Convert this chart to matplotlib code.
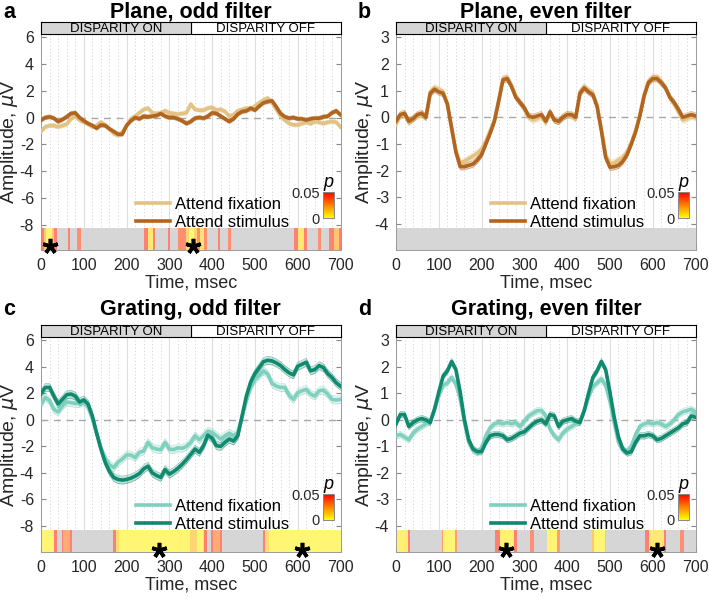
import numpy as np
import matplotlib
matplotlib.use('Agg')
import matplotlib.pyplot as plt
from matplotlib import colors
from matplotlib.cm import ScalarMappable

plt.rcParams['font.family'] = ['Liberation Sans', 'DejaVu Sans']
plt.rcParams['axes.unicode_minus'] = False

# время, мс (шаг 10 мс)
time = np.arange(0, 701, 10)

# --- данные ---
plane_odd_fix = [-1.05, -0.7, -0.6, -0.6, -0.7, -0.6, -0.5, -0.1, 0.1, -0.2,
                 -0.35, -0.5, -0.7, -0.6, -0.35, -0.55, -0.85, -1.2, -1.35, -1.1,
                 -0.6, -0.1, 0.1, 0.35, 0.6, 0.7, 0.35, 0.3, 0.35, 0.5,
                 0.35, 0.3, 0.25, 0.3, 0.35, 1.0, 0.6, 0.55, 0.55, 0.7,
                 0.75, 0.55, 0.6, 0.45, 0.1, 0.2, 0.5, 0.6, 0.7, 0.6,
                 0.85, 1.1, 1.3, 1.45, 1.1, 0.6, 0.1, -0.2, -0.45, -0.55,
                 -0.55, -0.45, -0.35, -0.45, -0.3, -0.35, -0.45, -0.35, -0.3, -0.35,
                 -0.7]
plane_odd_stim = [-0.2, 0.0, 0.05, -0.05, -0.3, -0.15, 0.05, 0.3, 0.35, 0.0,
                  -0.25, -0.45, -0.6, -0.8, -0.55, -0.6, -0.85, -1.05, -1.25, -1.25,
                  -0.6, -0.25, 0.0, -0.1, 0.1, 0.05, 0.1, 0.15, 0.3, 0.1,
                  0.0, 0.0, -0.1, -0.25, -0.45, -0.3, -0.05, 0.0, -0.05, 0.1,
                  0.35, 0.3, 0.1, -0.1, -0.3, -0.1, 0.25, 0.45, 0.5, 0.7,
                  0.55, 0.85, 1.1, 1.2, 1.25, 0.8, 0.3, 0.05, -0.05, 0.0,
                  -0.1, -0.1, -0.2, -0.1, -0.05, -0.05, 0.05, 0.1, 0.35, 0.5,
                  0.2]
plane_even_fix = [-0.25, 0.05, 0.1, -0.2, -0.05, 0.05, 0.1, 0.0, 0.95, 1.1,
                  1.05, 0.95, 0.5, -0.4, -1.25, -1.7, -1.65, -1.55, -1.45, -1.35,
                  -1.2, -0.9, -0.5, -0.1, 0.65, 1.45, 1.5, 1.2, 0.8, 0.55,
                  0.3, 0.0, -0.1, -0.05, 0.05, -0.2, 0.15, -0.1, -0.15, 0.0,
                  0.1, 0.05, -0.05, 0.95, 1.15, 1.0, 0.9, 0.45, -0.45, -1.4,
                  -1.75, -1.7, -1.6, -1.5, -1.3, -0.95, -0.5, 0.1, 0.85, 1.35,
                  1.5, 1.5, 1.35, 1.1, 0.75, 0.5, 0.2, -0.1, -0.05, 0.05,
                  0.0]
plane_even_stim = [-0.15, 0.1, 0.15, -0.15, -0.05, 0.1, 0.15, 0.0, 0.9, 1.05,
                   0.95, 0.9, 0.5, -0.4, -1.3, -1.85, -1.85, -1.8, -1.75, -1.6,
                   -1.4, -1.0, -0.6, -0.15, 0.6, 1.4, 1.45, 1.15, 0.75, 0.55,
                   0.35, 0.05, 0.0, 0.05, 0.1, -0.15, 0.2, -0.1, -0.15, 0.0,
                   0.1, 0.1, 0.0, 0.9, 1.1, 0.95, 0.85, 0.4, -0.5, -1.5,
                   -1.87, -1.85, -1.8, -1.65, -1.4, -1.0, -0.55, 0.05, 0.8, 1.3,
                   1.45, 1.45, 1.3, 1.1, 0.75, 0.55, 0.3, 0.0, 0.05, 0.1,
                   0.05]
grating_odd_fix = [1.2, 1.7, 1.45, 0.8, 0.6, 1.05, 1.35, 1.3, 1.25, 1.25,
                   1.35, 1.0, 0.1, -1.0, -2.1, -2.9, -3.4, -3.6, -3.2, -2.95,
                   -2.65, -2.65, -2.85, -2.45, -2.35, -1.7, -2.1, -2.2, -2.25, -1.7,
                   -2.2, -2.25, -2.1, -2.15, -2.0, -1.7, -1.2, -1.5, -1.2, -0.85,
                   -0.95, -1.2, -1.45, -1.2, -1.0, -1.2, -0.95, 0.2, 1.45, 2.45,
                   3.05, 3.35, 3.7, 3.45, 2.75, 2.55, 2.45, 2.45, 1.85, 1.55,
                   2.05, 2.2, 2.3, 1.95, 1.8, 2.2, 2.25, 1.95, 1.55, 1.5,
                   1.55]
grating_odd_stim = [2.0, 2.45, 2.45, 1.8, 1.2, 1.55, 1.9, 1.95, 1.8, 1.35,
                    1.5, 1.2, 0.3, -1.0, -2.2, -3.2, -3.9, -4.35, -4.5, -4.55,
                    -4.5, -4.4, -4.25, -4.05, -3.7, -3.5, -4.0, -4.2, -4.35, -3.75,
                    -4.1, -3.9, -3.65, -3.35, -3.0, -2.6, -2.2, -2.45, -1.95, -1.15,
                    -1.4, -1.95, -2.0, -1.7, -1.45, -1.6, -1.2, 0.3, 1.8, 2.85,
                    3.5, 3.95, 4.4, 4.5, 4.45, 4.3, 4.1, 3.8, 3.55, 3.4,
                    4.05, 4.2, 4.35, 3.7, 3.8, 4.1, 3.95, 3.5, 3.2, 2.8,
                    2.55]
grating_even_fix = [-0.6, -0.55, -0.65, -0.75, -0.5, -0.35, -0.25, -0.15, -0.05, 0.4,
                    0.9, 1.3, 1.4, 1.6, 1.35, 0.8, -0.1, -0.85, -1.15, -1.25,
                    -1.05, -0.6, -0.3, -0.15, -0.1, -0.15, -0.1, -0.15, -0.1, -0.25,
                    -0.05, 0.15, 0.25, 0.35, 0.35, 0.15, -0.35, -0.6, -0.75, -0.5,
                    -0.35, -0.25, -0.15, -0.05, 0.35, 0.85, 1.25, 1.4, 1.55, 1.3,
                    0.7, -0.1, -0.85, -1.15, -1.2, -1.0, -0.55, -0.25, -0.15, -0.1,
                    -0.15, -0.1, -0.15, -0.25, -0.15, 0.0, 0.2, 0.3, 0.35, 0.4,
                    0.3]
grating_even_stim = [-0.15, 0.2, 0.2, -0.25, -0.1, 0.0, 0.05, 0.0, -0.1, 0.4,
                     1.05, 1.65, 1.85, 2.2, 1.9, 1.05, 0.0, -0.75, -1.1, -1.2,
                     -1.2, -0.85, -0.6, -0.55, -0.55, -0.6, -0.75, -0.7, -0.6, -0.5,
                     -0.45, -0.3, -0.15, -0.05, 0.0, -0.15, 0.2, 0.15, -0.25, -0.05,
                     0.0, 0.05, -0.05, -0.1, 0.35, 1.0, 1.6, 1.85, 2.2, 1.9,
                     1.05, 0.1, -0.65, -1.1, -1.25, -1.2, -0.85, -0.6, -0.6, -0.55,
                     -0.6, -0.75, -0.7, -0.6, -0.5, -0.4, -0.3, -0.15, -0.1, 0.15,
                     0.1]

# ошибка среднего (ширина полосы)
sem = {'a': 0.15, 'b': 0.12, 'c': 0.3, 'd': 0.12}

# значимые интервалы: (начало, конец, p)
sig_a = [(0, 37, 0.045), (8, 30, 0.02), (12, 26, 0.004),
         (62, 68, 0.045), (84, 93, 0.04),
         (241, 267, 0.045), (250, 262, 0.008),
         (297, 302, 0.045),
         (321, 388, 0.04), (338, 364, 0.015), (345, 358, 0.003), (372, 381, 0.01),
         (414, 419, 0.045), (436, 444, 0.04),
         (592, 622, 0.045), (600, 615, 0.008),
         (648, 654, 0.04),
         (673, 700, 0.045), (684, 696, 0.02)]
sig_b = []
sig_c = [(0, 37, 0.045), (0, 31, 0.004),
         (48, 72, 0.045), (52, 67, 0.03),
         (169, 388, 0.045), (175, 380, 0.012), (182, 378, 0.003), (348, 364, 0.015),
         (397, 423, 0.045), (402, 418, 0.03),
         (519, 700, 0.045), (524, 700, 0.012), (532, 700, 0.003)]
sig_d = [(0, 33, 0.045), (0, 28, 0.006),
         (107, 142, 0.035), (110, 137, 0.004),
         (231, 282, 0.045), (243, 275, 0.005),
         (313, 323, 0.04),
         (352, 383, 0.035), (352, 377, 0.004),
         (459, 490, 0.02), (462, 488, 0.004),
         (582, 632, 0.045), (592, 627, 0.008),
         (663, 673, 0.04)]

stars_a = [20, 355]
stars_b = []
stars_c = [276, 610]
stars_d = [258, 609]

plane_colors = ('#e3c384', '#b2651f')
grating_colors = ('#7fd0bf', '#108a6e')

titles = ['Plane, odd filter', 'Plane, even filter', 'Grating, odd filter', 'Grating, even filter']
letters = ['a', 'b', 'c', 'd']

cmap = plt.get_cmap('autumn_r')
norm = colors.Normalize(0, 0.05)


def light(c, k=0.55):
    c = np.array(colors.to_rgb(c))
    return c * k + (1 - k)


def draw_panel(fig, rect, key, fix, stim, cols, sig, stars, ylim, yticks, sig_top, star_y):
    ax = fig.add_axes(rect)
    ax.set_xlim(0, 700)
    ax.set_ylim(*ylim)
    ax.set_axisbelow(True)
    ax.set_xticks(range(0, 701, 100))
    ax.set_xticks(range(0, 701, 20), minor=True)
    ax.set_yticks(yticks)
    ax.grid(axis='x', which='major', color='#dedede', lw=0.8)
    ax.grid(axis='x', which='minor', color='#cfcfcf', ls=(0, (1, 2.5)), lw=0.7)
    ax.tick_params(which='both', direction='in', right=True, labelsize=11.5,
                   labelcolor='#262626', color='#888888')
    ax.tick_params(which='minor', length=0)
    ax.tick_params(which='major', length=3.5)
    ax.tick_params(axis='x', pad=6)
    ax.tick_params(axis='y', pad=5)
    for s in ax.spines.values():
        s.set_color('#9a9a9a')
        s.set_linewidth(0.7)

    # полоса значимости
    ax.fill_between([0, 700], ylim[0], sig_top, color='#d6d6d6', lw=0, zorder=1)
    for t0, t1, p in sig:
        ax.fill_between([t0, t1], ylim[0], sig_top, color=light(cmap(norm(p))), lw=0, zorder=1.5)

    ax.axhline(0, color='#a8a8a8', lw=1.0, ls=(0, (5, 4)), zorder=2)

    s = sem[key]
    fix = np.array(fix)
    stim = np.array(stim)
    lines = []
    for y, c in [(fix, cols[0]), (stim, cols[1])]:
        ax.fill_between(time, y - s, y + s, color=c, alpha=0.25, lw=0, zorder=3)
        ax.plot(time, y - s, color=c, lw=0.5, alpha=0.5, zorder=3)
        ax.plot(time, y + s, color=c, lw=0.5, alpha=0.5, zorder=3)
        ln, = ax.plot(time, y, color=c, lw=2.6, zorder=4)
        lines.append(ln)

    for t in stars:
        ax.plot(t, star_y, marker=(5, 2, 0), ms=11, mew=2.6, color='black',
                clip_on=False, zorder=6)

    ax.set_xlabel('Time, msec', fontsize=13, color='#262626', labelpad=1)
    ax.set_ylabel('Amplitude, $\\mu$V', fontsize=14, color='#262626', labelpad=0)

    ax.legend(lines, ['Attend fixation', 'Attend stimulus'], loc='upper left',
              bbox_to_anchor=(0.29, 0.285), frameon=False, fontsize=12,
              handlelength=2.05, handletextpad=0.3, labelspacing=0.2, borderpad=0)

    # шкала p
    cax = ax.inset_axes([0.94, 0.148, 0.037, 0.12])
    cb = fig.colorbar(ScalarMappable(norm=norm, cmap=cmap), cax=cax)
    cb.set_ticks([0, 0.05])
    cb.set_ticklabels(['0', '0.05'])
    cax.yaxis.set_ticks_position('left')
    cax.tick_params(length=0, labelsize=10.5, labelcolor='#262626', pad=2)
    cb.outline.set_edgecolor('#888888')
    cb.outline.set_linewidth(0.7)
    cax.text(0.5, 1.03, 'p', transform=cax.transAxes, ha='center', va='bottom',
             fontsize=13, style='italic')

    # полоса DISPARITY ON / OFF
    x0, y0, w, h = rect
    bar = fig.add_axes([x0, y0 + h, w, 12 / 599])
    bar.set_xlim(0, 700)
    bar.set_ylim(0, 1)
    bar.axvspan(0, 350, color='#d6d6d6')
    bar.axvline(350, color='black', lw=0.8)
    bar.text(175, 0.45, 'DISPARITY ON', ha='center', va='center', fontsize=9.5)
    bar.text(525, 0.45, 'DISPARITY OFF', ha='center', va='center', fontsize=9.5)
    bar.set_xticks([])
    bar.set_yticks([])
    for sp in bar.spines.values():
        sp.set_linewidth(0.8)
    return ax


fig = plt.figure(figsize=(7.09, 5.99), dpi=100)

W = 299.5 / 709
r_a = [41 / 709, 1 - 250 / 599, W, 216 / 599]
r_b = [396 / 709, 1 - 250 / 599, W, 216 / 599]
r_c = [41 / 709, 1 - 551.5 / 599, W, 214.5 / 599]
r_d = [396 / 709, 1 - 551.5 / 599, W, 214.5 / 599]

draw_panel(fig, r_a, 'a', plane_odd_fix, plane_odd_stim, plane_colors, sig_a, stars_a,
           (-9.9, 6.24), range(-8, 7, 2), -8.25, -9.6)
draw_panel(fig, r_b, 'b', plane_even_fix, plane_even_stim, plane_colors, sig_b, stars_b,
           (-4.97, 3.12), range(-4, 4), -4.15, -4.8)
draw_panel(fig, r_c, 'c', grating_odd_fix, grating_odd_stim, grating_colors, sig_c, stars_c,
           (-9.94, 6.26), range(-8, 7, 2), -8.3, -9.85)
draw_panel(fig, r_d, 'd', grating_even_fix, grating_even_stim, grating_colors, sig_d, stars_d,
           (-4.97, 3.13), range(-4, 4), -4.17, -4.93)

title_y = [1 - 12 / 599, 1 - 12 / 599, 1 - 309 / 599, 1 - 309 / 599]
title_x = [(41 + 340) / 2 / 709, (396 + 696) / 2 / 709] * 2
letter_x = [3 / 709, 358 / 709] * 2
for i in range(4):
    fig.text(title_x[i], title_y[i], titles[i], ha='center', va='center',
             fontsize=15.5, fontweight='bold')
    fig.text(letter_x[i], title_y[i], letters[i], ha='left', va='center',
             fontsize=15.5, fontweight='bold')

fig.savefig('out.png', dpi=100)
